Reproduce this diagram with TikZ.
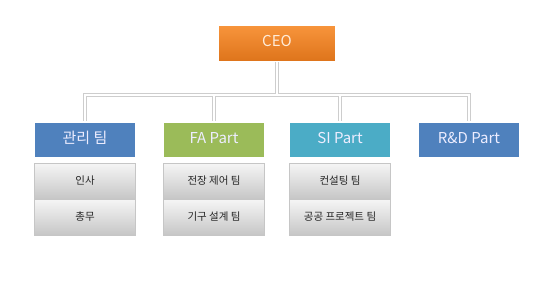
\documentclass[tikz,border=0pt]{standalone}
\usepackage{fontspec}
\setmainfont{Noto Sans CJK KR}
\usetikzlibrary{positioning, shadows, backgrounds}

\definecolor{ceoTop}{HTML}{F8953C}
\definecolor{ceoBot}{HTML}{DE741B}
\definecolor{mgmtBlue}{HTML}{4F81BD}
\definecolor{faGreen}{HTML}{9BBB59}
\definecolor{siTeal}{HTML}{4BACC6}
\definecolor{subTop}{HTML}{F5F5F5}
\definecolor{subBot}{HTML}{C6C6C6}
\definecolor{lineGray}{HTML}{CDCDCD}

\begin{document}
\begin{tikzpicture}[x=1pt, y=-1pt,
    box/.style   = {rectangle, inner sep=0pt, text height=1.45ex, text depth=.3ex,
                    drop shadow={opacity=0.25, shadow xshift=0.8pt, shadow yshift=-0.8pt}},
    ceo/.style   = {box, minimum width=117pt, minimum height=36pt,
                    top color=ceoTop, bottom color=ceoBot, draw=white, line width=0.8pt,
                    text=orange!15, font=\fontsize{15}{15}\selectfont},
    part/.style  = {box, minimum width=102pt, minimum height=36pt,
                    draw=white, line width=1.6pt, text=white!93!blue,
                    font=\fontsize{15}{15}\selectfont},
    sub/.style   = {box, minimum width=101pt, minimum height=35.5pt,
                    top color=subTop, bottom color=subBot, draw=gray!45, line width=0.5pt,
                    text=black!85, font=\fontsize{10.5}{10.5}\selectfont},
    link/.style  = {draw=lineGray, line width=4.4pt},
    linkin/.style = {draw=white, line width=2.6pt},
]
\useasboundingbox (0,0) rectangle (559,297);

%% ---- Column positions (x-coords) ----
\def\xA{85}    % management
\def\xB{214}   % FA
\def\xC{340}   % SI
\def\xD{469}   % R&D
\def\yPart{140}
\def\yBus{95}

%% ---- Nodes ----
\node[ceo] (ceo) at (277,43) {CEO};

\node[part, fill=mgmtBlue] (P1) at (\xA,\yPart) {관리 팀};
\node[part, fill=faGreen]  (P2) at (\xB,\yPart) {FA Part};
\node[part, fill=siTeal]   (P3) at (\xC,\yPart) {SI Part};
\node[part, fill=mgmtBlue] (P4) at (\xD,\yPart) {R\&D Part};

%% ---- Teams under each part ----
\node[sub, below=4.5pt of P1] (P1a) {인사};
\node[sub, below=0pt of P1a]  (P1b) {총무};
\node[sub, below=4.5pt of P2] (P2a) {전장 제어 팀};
\node[sub, below=0pt of P2a]  (P2b) {기구 설계 팀};
\node[sub, below=4.5pt of P3] (P3a) {컨설팅 팀};
\node[sub, below=0pt of P3a]  (P3b) {공공 프로젝트 팀};

%% ---- Connectors (behind nodes) ----
\coordinate (bus) at (0,\yBus);
\begin{scope}[on background layer]
    \fill[white] (0,0) rectangle (559,297);
    \foreach \p in {P1,P2,P3,P4}{
        \draw[link] (ceo.south) -- (ceo.south |- bus) -| (\p.north);
    }
    \foreach \p in {P1,P2,P3,P4}{
        \draw[linkin] (ceo.south) -- (ceo.south |- bus) -| (\p.north);
    }
\end{scope}

\end{tikzpicture}
\end{document}
